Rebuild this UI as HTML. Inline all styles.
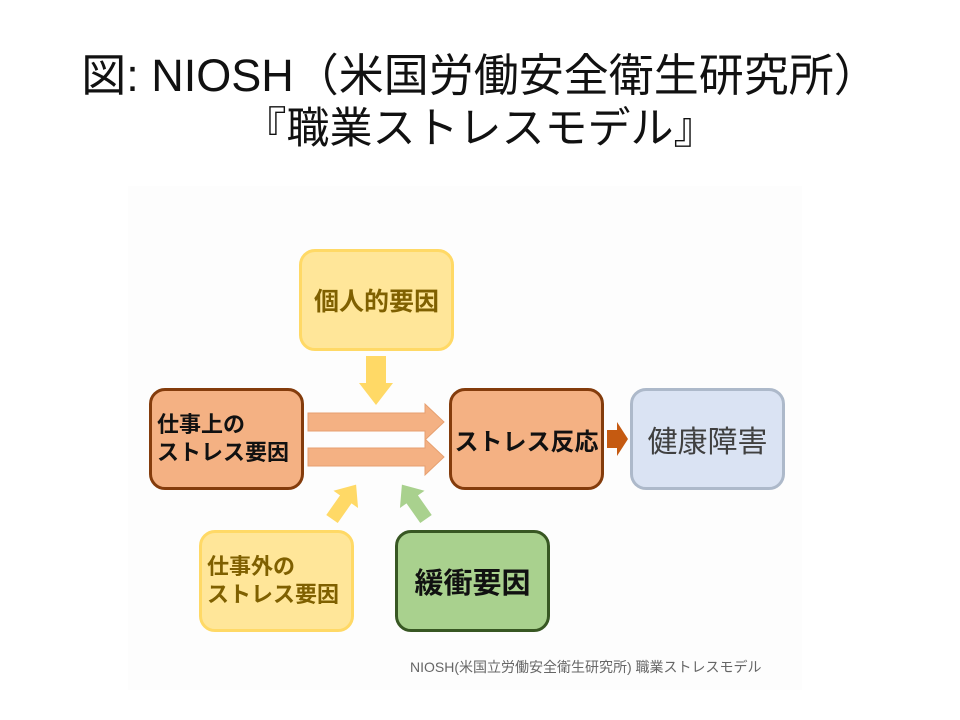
<!DOCTYPE html>
<html><head><meta charset="utf-8"><style>
body{margin:0;width:960px;height:720px;background:#fff;position:relative;overflow:hidden;font-family:"Liberation Sans","Noto Sans CJK JP",sans-serif}
.t{position:absolute;left:0;width:960px;text-align:center;color:#111;line-height:52px;white-space:nowrap}
.panel{position:absolute;left:128px;top:186px;width:674px;height:504px;background:#fdfdfd}
.b{position:absolute;box-sizing:border-box;width:155px;height:102px;border-radius:16px;border:3px solid;display:flex;align-items:center;font-weight:bold;white-space:nowrap}
</style></head><body>
<div class="t" style="top:50px;font-size:45px">図: NIOSH（米国労働安全衛生研究所）</div>
<div class="t" style="top:103px;font-size:43px">『職業ストレスモデル』</div>
<div class="panel"></div>
<svg style="position:absolute;left:0;top:0" width="960" height="720">
<polygon points="308,413 425,413 425,404 444,422 425,440 425,431 308,431" fill="#f4b183" stroke="#e6a070" stroke-width="1"/>
<polygon points="308,448 425,448 425,439 444,457 425,475 425,466 308,466" fill="#f4b183" stroke="#e6a070" stroke-width="1"/>
<polygon points="366,356 386,356 386,383 393,383 376,405 359,383 366,383" fill="#ffd966"/>
<polygon points="607,430 617,430 617,422 628,439 617,456 617,448 607,448" fill="#c55a11"/>
<g transform="translate(332,519) rotate(35)"><polygon points="-7,0 7,0 7,-24 15,-24 0,-42 -15,-24 -7,-24" fill="#ffd966"/></g>
<g transform="translate(426,519) rotate(-35)"><polygon points="-7,0 7,0 7,-24 15,-24 0,-42 -15,-24 -7,-24" fill="#a9d18e"/></g>
</svg>
<div class="b" style="left:299px;top:249px;background:#ffe699;border-color:#ffd966;color:#7f6000;justify-content:center;font-size:25px">個人的要因</div>
<div class="b" style="left:149px;top:388px;background:#f4b183;border-color:#843c0c;color:#111;font-size:22px;padding-left:5px;line-height:28px">仕事上の<br>ストレス要因</div>
<div class="b" style="left:449px;top:388px;background:#f4b183;border-color:#843c0c;color:#111;justify-content:center;font-size:24px">ストレス反応</div>
<div class="b" style="left:630px;top:388px;background:#dae3f3;border-color:#adb9ca;color:#404040;justify-content:center;font-size:30px;font-weight:normal">健康障害</div>
<div class="b" style="left:199px;top:530px;background:#ffe699;border-color:#ffd966;color:#7f6000;font-size:22px;padding-left:5px;line-height:28px">仕事外の<br>ストレス要因</div>
<div class="b" style="left:395px;top:530px;background:#a9d18e;border-color:#385723;color:#111;justify-content:center;font-size:29px">緩衝要因</div>
<div style="position:absolute;left:410px;top:657px;font-size:14px;color:#666;white-space:nowrap">NIOSH(米国立労働安全衛生研究所) 職業ストレスモデル</div>
</body></html>
